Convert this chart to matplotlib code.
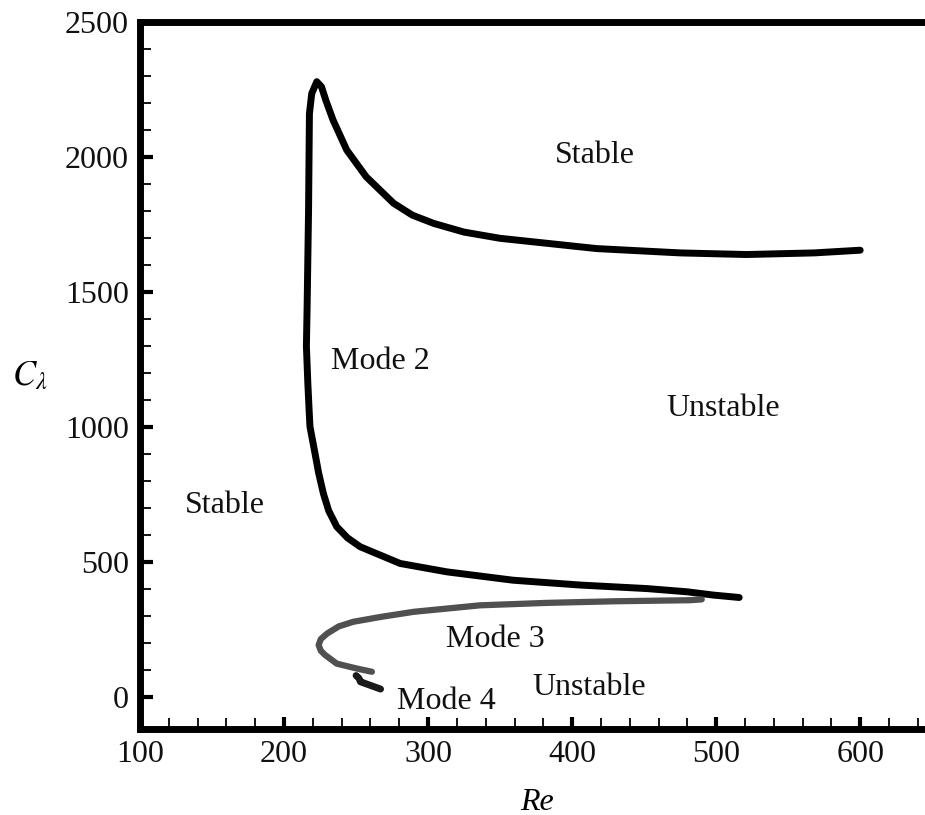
import matplotlib
matplotlib.use("Agg")
import matplotlib.pyplot as plt
from matplotlib.ticker import MultipleLocator

plt.rcParams["font.family"] = ["Liberation Serif", "DejaVu Serif"]
plt.rcParams["mathtext.fontset"] = "stix"

# Mode 2 neutral curve
mode2_re = [600, 568, 521, 475, 417, 350, 325, 304, 289, 276, 257, 243.5,
            234, 229, 226, 222.7, 219.2, 217.6, 217, 216, 215.5, 216.5, 217.5,
            218, 221.5, 224, 227.3, 231, 236.6, 244, 252.8, 266.7, 280.6, 313,
            359, 406, 452, 480, 498, 516]
mode2_c = [1655, 1645, 1639, 1645, 1661, 1699, 1722, 1754, 1785, 1829, 1927,
           2026, 2137, 2210, 2260, 2279, 2235, 2161, 1804, 1445, 1300, 1162,
           1050, 1001, 902, 830, 754, 690, 631, 590, 557, 526, 495, 464, 433,
           415, 402, 390, 378, 369]

# Mode 3 neutral curve
mode3_re = [490, 482, 429, 382, 336, 290, 267, 248, 238, 230, 225.5, 224,
            225.5, 228.5, 236.6, 250.5, 261]
mode3_c = [362, 359, 355, 349, 340, 316, 297, 279, 262, 236, 215, 193, 172,
           156, 124, 106, 94]

# Mode 4 short piece
mode4_re = [250, 252, 253, 267]
mode4_c = [80, 70, 57, 30]

# region labels (centre x, baseline y)
labels = ["Stable", "Mode 2", "Unstable", "Stable", "Mode 3", "Unstable", "Mode 4"]
label_re = [416, 267, 505, 159, 347, 412, 313]
label_c = [1978, 1215, 1042, 681, 186, 7, -44]

fig = plt.figure(figsize=(9.25, 8.15), dpi=100)
ax = fig.add_axes([0.1514, 0.1055, 0.8486, 0.8675])

ax.plot(mode2_re, mode2_c, color="black", lw=5, solid_capstyle="round",
        solid_joinstyle="round")
ax.plot(mode3_re, mode3_c, color="#505050", lw=4.5, solid_capstyle="round",
        solid_joinstyle="round")
ax.plot(mode4_re, mode4_c, color="#1a1a1a", lw=5, solid_capstyle="round",
        solid_joinstyle="round")

for t, x, y in zip(labels, label_re, label_c):
    ax.text(x, y, t, fontsize=23, ha="center", va="baseline", color="#111111")

ax.set_xlim(100, 645)
ax.set_ylim(-118, 2500)

ax.xaxis.set_major_locator(MultipleLocator(100))
ax.xaxis.set_minor_locator(MultipleLocator(20))
ax.yaxis.set_major_locator(MultipleLocator(500))
ax.set_yticks(range(100, 2500, 100), minor=True)
ax.tick_params(which="both", direction="in", top=False, right=False,
               labelsize=23, color="black", labelcolor="#111111")
ax.tick_params(which="major", length=9, width=3, pad=8)
ax.tick_params(which="minor", length=8, width=1.3)

for side in ["left", "bottom", "top"]:
    ax.spines[side].set_linewidth(5)
ax.spines["right"].set_visible(False)

ax.set_xlabel("Re", fontsize=23, style="italic")
ax.xaxis.set_label_coords(0.506, -0.083)
ax.set_ylabel(r"$C_\lambda$", fontsize=25, rotation=0, ha="center", va="center")
ax.yaxis.set_label_coords(-0.141, 0.498)

fig.savefig("out.png", dpi=100)
